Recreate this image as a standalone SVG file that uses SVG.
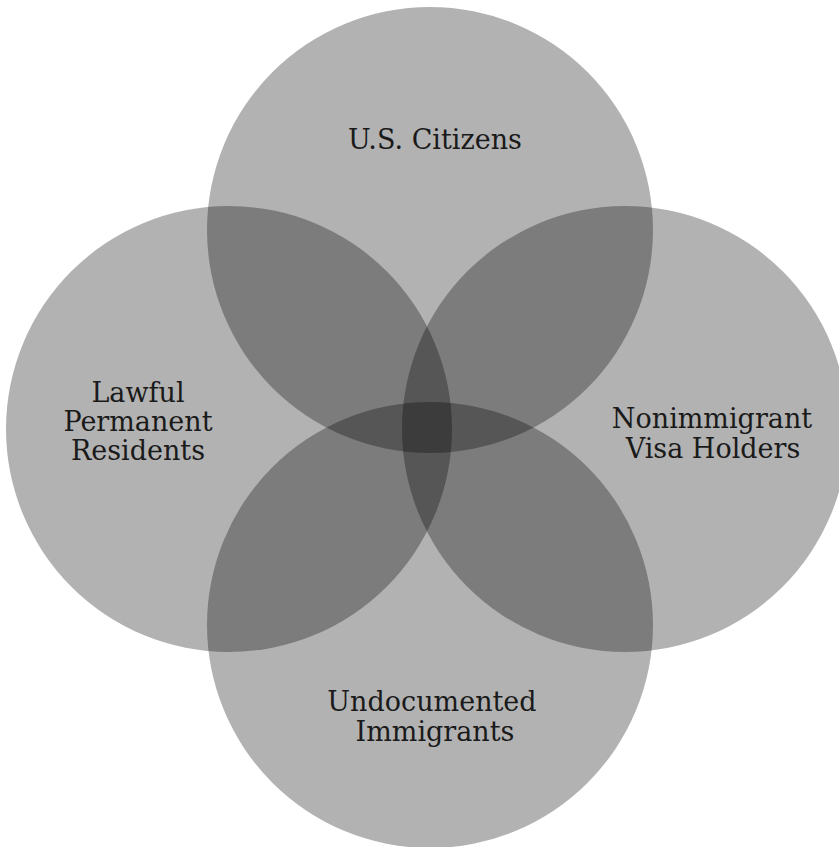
<svg xmlns="http://www.w3.org/2000/svg" width="839" height="847" viewBox="0 0 839 847">
  <style>
    .set { fill: #000; fill-opacity: 0.3; stroke: none; }
    .lbl { font-family: "DejaVu Serif", "Liberation Serif", serif; font-size: 27px; fill: #1a1a1a; text-anchor: middle; }
  </style>
  <rect x="0" y="0" width="839" height="847" fill="#fff"/>
  <g id="us-citizens">
    <circle class="set" cx="430" cy="230" r="223"/>
    <text class="lbl" x="435" y="149">U.S. Citizens</text>
  </g>
  <g id="lawful-permanent-residents">
    <circle class="set" cx="229" cy="429" r="223"/>
    <text class="lbl" x="138" y="402">Lawful</text>
    <text class="lbl" x="138" y="431">Permanent</text>
    <text class="lbl" x="138" y="460">Residents</text>
  </g>
  <g id="nonimmigrant-visa-holders">
    <circle class="set" cx="625" cy="429" r="223"/>
    <text class="lbl" x="712" y="428">Nonimmigrant</text>
    <text class="lbl" x="713" y="458">Visa Holders</text>
  </g>
  <g id="undocumented-immigrants">
    <circle class="set" cx="430" cy="625" r="223"/>
    <text class="lbl" x="432" y="711">Undocumented</text>
    <text class="lbl" x="435" y="741">Immigrants</text>
  </g>
  <g id="connectors"/>
</svg>
